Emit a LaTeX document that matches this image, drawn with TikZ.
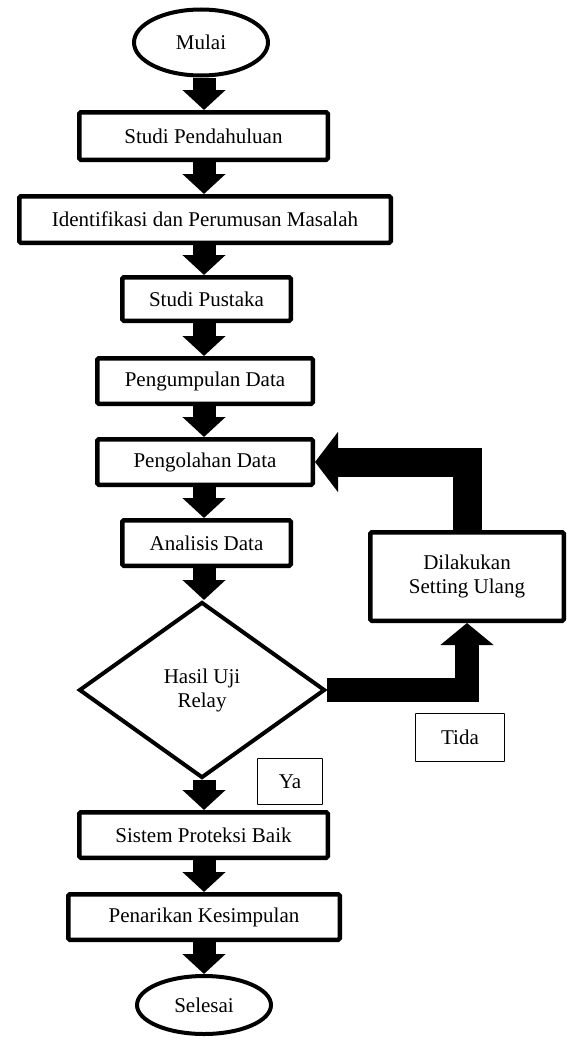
\documentclass[tikz,border=0pt]{standalone}
\usepackage{fontspec}
\setmainfont{Liberation Serif}
\usetikzlibrary{
	arrows.meta,
	positioning,
	shapes.geometric
}
\tikzset{
	flowtext/.style={font=\fontsize{21}{24}\selectfont},
	flowbox/.style={draw, flowtext, line width=4.5pt, rounded corners=1.5pt, inner sep=2pt},
	terminal/.style={ellipse, draw, flowtext, line width=4pt, minimum width=134pt, minimum height=66pt},
	decision/.style={diamond, draw, flowtext, line width=4pt, align=center, minimum width=246pt, minimum height=176pt},
	tagbox/.style={draw, flowtext, line width=0.8pt, rounded corners=0.5pt},
	flowarrow/.style={line width=23pt, -{Triangle[width=42pt, length=20pt]}},
	backarrow/.style={line width=29pt, -{Triangle[width=59pt, length=23pt]}},
	nogoarrow/.style={line width=24pt, -{Triangle[width=52pt, length=22pt]}}
}

\begin{document}
\begin{tikzpicture}[x=1pt, y=-1pt]
	\useasboundingbox (0,0) rectangle (567,1041);
	\coordinate (spine) at (204,0);

	\node[terminal] (mulai) at (201,42.5) {Mulai};
	\node[flowbox, minimum width=248.5pt, minimum height=47.5pt] (pendahuluan) at (203.5,136) {Studi Pendahuluan};
	\node[flowbox, minimum width=371.5pt, minimum height=46.5pt] (identifikasi) at (205,219.5) {Identifikasi dan Perumusan Masalah};
	\node[flowbox, minimum width=168.5pt, minimum height=43.5pt] (pustaka) at (206.5,299) {Studi Pustaka};
	\node[flowbox, minimum width=215.5pt, minimum height=45.5pt] (kumpul) at (205,381) {Pengumpulan Data};
	\node[flowbox, minimum width=215.5pt, minimum height=45.5pt] (olah) at (205,462) {Pengolahan Data};
	\node[flowbox, minimum width=168.5pt, minimum height=45.5pt] (analisis) at (206.5,543) {Analisis Data};
	\node[decision] (hasil) at (202,690) {Hasil Uji\\Relay};
	\node[flowbox, minimum width=248.5pt, minimum height=45.5pt] (sistem) at (203.5,835) {Sistem Proteksi Baik};
	\node[flowbox, minimum width=271.5pt, minimum height=45.5pt] (tarik) at (204,917) {Penarikan Kesimpulan};
	\node[terminal, minimum width=134pt, minimum height=58pt] (selesai) at (204,1005) {Selesai};

	\node[flowbox, align=center, minimum width=193.5pt, minimum height=88.5pt] (setting) at (467,576.5) {Dilakukan\\Setting Ulang};
	\node[tagbox, minimum width=89pt, minimum height=48pt] (tida) at (460,737.5) {Tida};
	\node[tagbox, minimum width=65pt, minimum height=46pt] (ya) at (290,781.5) {Ya};

	% main flow
	\foreach \a/\b in {mulai/pendahuluan, pendahuluan/identifikasi, identifikasi/pustaka,
		pustaka/kumpul, kumpul/olah, olah/analisis, analisis/hasil, hasil/sistem,
		sistem/tarik, tarik/selesai}
		\draw[flowarrow] (\a.south -| spine) -- (\b.north -| spine);

	% loop back
	\draw[nogoarrow] (hasil.east) -| (setting.south);
	\draw[backarrow] (setting.north) |- (olah.east);
\end{tikzpicture}
\end{document}
